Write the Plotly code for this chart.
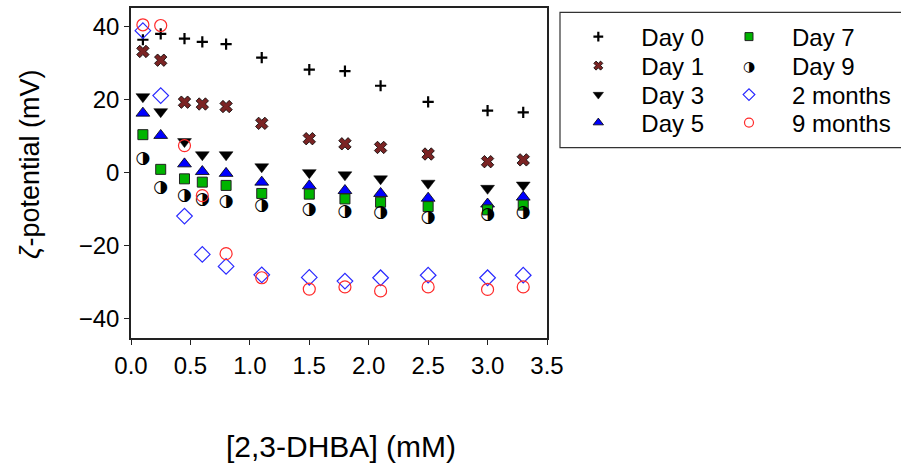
import plotly.graph_objects as go

conc = [0.1, 0.25, 0.45, 0.6, 0.8, 1.1, 1.5, 1.8, 2.1, 2.5, 3.0, 3.3]
day0 = [36.4, 38.0, 36.7, 35.8, 35.2, 31.5, 28.2, 27.8, 23.8, 19.4, 17.0, 16.5]
day1 = [33.2, 30.8, 19.3, 18.8, 18.1, 13.5, 9.3, 7.9, 6.9, 5.1, 3.0, 3.5]
day3 = [20.8, 16.7, 8.5, 4.9, 4.9, 1.6, 0.0, -0.6, -1.7, -2.9, -4.3, -3.4]
day5 = [16.3, 10.2, 2.4, 0.3, -0.2, -2.6, -3.6, -4.9, -5.7, -7.0, -8.6, -6.7]
day7 = [10.4, 0.9, -1.7, -2.6, -3.5, -5.7, -5.9, -7.2, -8.1, -9.3, -10.2, -8.9]
day9 = [3.7, -4.1, -6.4, -7.5, -7.9, -9.1, -10.2, -10.7, -10.9, -12.3, -11.4, -11.0]
months2 = [38.9, 21.1, -11.9, -22.4, -25.7, -28.0, -28.7, -29.7, -28.8, -28.1, -28.8, -28.1]
months9 = [40.5, 40.3, 7.4, -6.3, -22.2, -28.8, -31.9, -31.3, -32.4, -31.3, -32.0, -31.3]

series_names = ["Day 0", "Day 1", "Day 3", "Day 5", "Day 7", "Day 9", "2 months", "9 months"]

x_ticks = [0.0, 0.5, 1.0, 1.5, 2.0, 2.5, 3.0, 3.5]
y_ticks = [-40, -20, 0, 20, 40]

FONT = "Liberation Sans, Arial, sans-serif"
HALF = "◑"

styles = {
    "Day 0": dict(symbol="cross-thin", color="black", line=dict(color="black", width=2.2)),
    "Day 1": dict(symbol="x", color="#7b2424", line=dict(color="black", width=0.8)),
    "Day 3": dict(symbol="triangle-down", color="black", line=dict(color="black", width=0.5)),
    "Day 5": dict(symbol="triangle-up", color="#0000ff", line=dict(color="black", width=0.8)),
    "Day 7": dict(symbol="square", color="#00b400", line=dict(color="#222", width=1)),
    "2 months": dict(symbol="diamond-open", color="#2a2aff", line=dict(color="#2a2aff", width=1.2)),
    "9 months": dict(symbol="circle-open", color="#ff2a2a", line=dict(color="#ff2a2a", width=1.2)),
}
plot_size = {"Day 0": 8, "Day 1": 11, "Day 3": 12, "Day 5": 12, "Day 7": 10,
             "2 months": 12, "9 months": 12}
legend_size = {"Day 0": 7, "Day 1": 8, "Day 3": 9, "Day 5": 9, "Day 7": 8,
               "Day 9": 8, "2 months": 9, "9 months": 9}
values = {"Day 0": day0, "Day 1": day1, "Day 3": day3, "Day 5": day5, "Day 7": day7,
          "Day 9": day9, "2 months": months2, "9 months": months9}

fig = go.Figure()

# data marks (drawing order as in the original)
for name in series_names:
    if name == "Day 9":
        fig.add_trace(go.Scatter(x=conc, y=values[name], mode="text",
                                 text=[HALF] * len(conc), textposition="middle center",
                                 showlegend=False,
                                 textfont=dict(family="DejaVu Sans", size=17, color="black")))
    else:
        m = dict(styles[name])
        m["size"] = plot_size[name]
        fig.add_trace(go.Scatter(x=conc, y=values[name], mode="markers", name=name,
                                 showlegend=False, marker=m))

# legend entries: 2 columns x 4 rows, one legend per entry
col_x = [1.0200, 1.3822]
row_y = [0.9121, 0.8242, 0.7364, 0.6515]
legend_layouts = {}
for i, name in enumerate(series_names):
    col, row = divmod(i, 4)
    key = "legend" if i == 0 else f"legend{i + 1}"
    if name == "Day 9":
        m = dict(symbol="circle", size=legend_size[name], color="rgba(0,0,0,0)",
                 line=dict(width=0))
    else:
        m = dict(styles[name])
        m["size"] = legend_size[name]
    fig.add_trace(go.Scatter(x=[None], y=[None], mode="markers", name=name,
                             legend=key, showlegend=True, marker=m))
    legend_layouts[key] = dict(x=col_x[col], xanchor="left", y=row_y[row], yanchor="middle",
                               bgcolor="rgba(0,0,0,0)", borderwidth=0, itemwidth=76,
                               font=dict(family=FONT, size=24, color="black"))

fig.update_layout(**legend_layouts)

# legend box
fig.add_shape(type="rect", xref="paper", yref="paper", x0=1.03125, x1=1.95,
              y0=0.5767, y1=0.9870, line=dict(color="#333", width=1.2), layer="below")
# half-filled symbol for the Day 9 legend entry
fig.add_annotation(xref="paper", yref="paper", x=1.3822 + 43 / 416, y=row_y[1],
                   text=HALF, showarrow=False, xanchor="center", yanchor="middle",
                   font=dict(family="DejaVu Sans", size=14, color="black"))
# axis titles
fig.add_annotation(xref="paper", yref="paper", x=-0.2428, y=0.527, textangle=-90,
                   text="<i>ζ</i>-potential (mV)", showarrow=False,
                   xanchor="center", yanchor="middle",
                   font=dict(family=FONT, size=27, color="black"))
fig.add_annotation(xref="paper", yref="paper", x=0.5048, y=-0.3303,
                   text="[2,3-DHBA] (mM)", showarrow=False,
                   xanchor="center", yanchor="middle",
                   font=dict(family=FONT, size=30, color="black"))

fig.update_layout(
    width=901, height=464,
    margin=dict(l=131, r=354, t=8, b=126, autoexpand=False),
    paper_bgcolor="white", plot_bgcolor="white",
    font=dict(family=FONT, size=24, color="black"),
    showlegend=True,
    xaxis=dict(range=[0, 3.5], tickvals=x_ticks, ticktext=[f"{v:.1f}" for v in x_ticks],
               ticks="outside", ticklen=5, tickwidth=1.2, tickcolor="#222",
               showline=True, linecolor="#222", linewidth=1.5, mirror=True,
               showgrid=False, zeroline=False,
               tickfont=dict(size=24)),
    yaxis=dict(range=[-45.3, 45.1], tickvals=y_ticks,
               ticks="outside", ticklen=5, tickwidth=1.2, tickcolor="#222",
               showline=True, linecolor="#222", linewidth=1.5, mirror=True,
               showgrid=False, zeroline=False,
               tickfont=dict(size=24)),
)

fig.write_html("out.html")
